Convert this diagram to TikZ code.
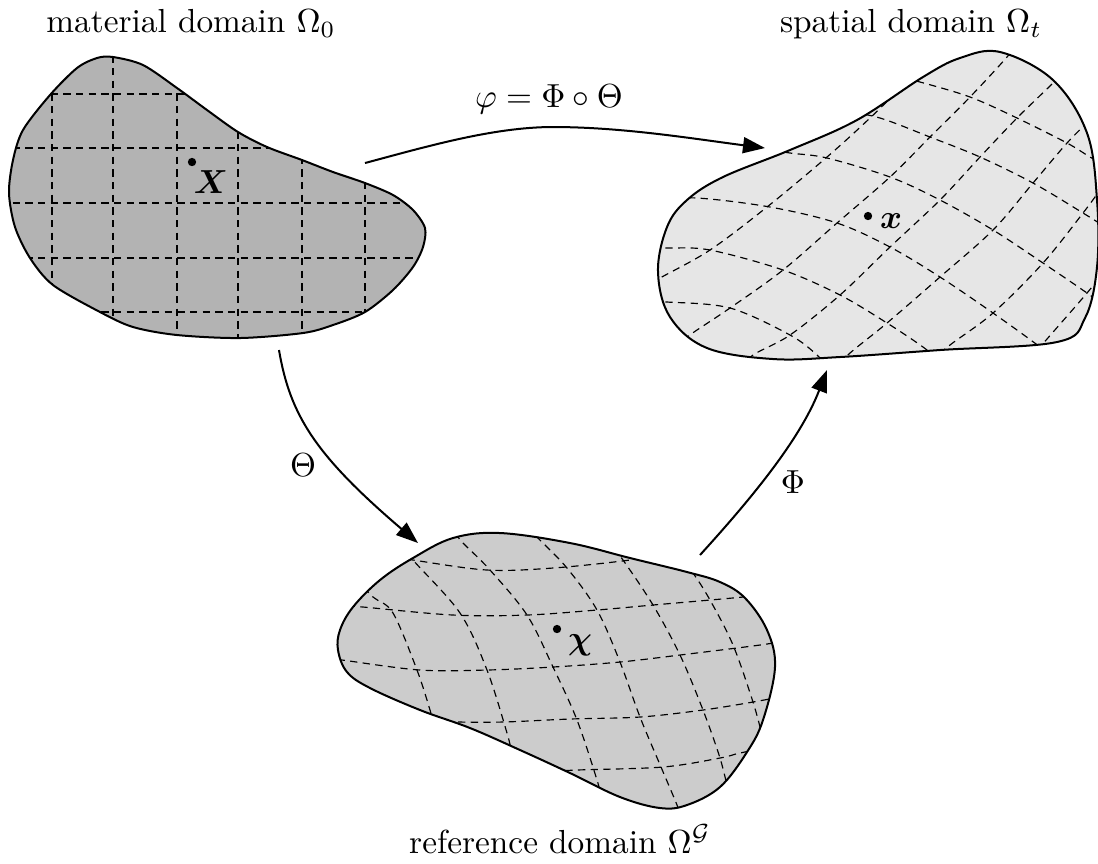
\documentclass[tikz,border=0pt]{standalone}
\usepackage{bm}
\usetikzlibrary{arrows.meta}
\definecolor{matgray}{HTML}{B3B3B3}
\definecolor{refgray}{HTML}{CCCCCC}
\definecolor{spagray}{HTML}{E6E6E6}
\begin{document}
\begin{tikzpicture}[x=0.3pt,y=-0.3pt,
  outline/.style={line width=0.6pt},
  gridline/.style={line width=0.35pt, dash pattern=on 2.2pt off 1.6pt},
  maparrow/.style={line width=0.6pt, -{Triangle[length=6.6pt,width=4.8pt]}},
  lbl/.style={inner sep=0pt},
  smoothline/.style={smooth, tension=0.55}]
\useasboundingbox (0,0) rectangle (1098,863);

\def\matshape{plot[smooth cycle, tension=0.5] coordinates {(113,57) (143,65) (177,88) (207,110) (238,132) (267,147) (302,160) (333,172) (365,183) (393,195) (413,210) (425,228) (423,247) (413,267) (393,290) (365,312) (333,325) (303,333) (240,338) (177,335) (133,327) (100,312) (53,285) (30,258) (15,227) (9,193) (13,160) (23,130) (50,95) (77,68) (97,58)}}
\def\spashape{plot[smooth cycle, tension=0.6] coordinates {(1000,52) (1053,80) (1087,133) (1097,200) (1097,267) (1085,318) (1057,342) (940,350) (840,357) (773,359) (707,348) (670,317) (658,272) (667,227) (687,200) (723,177) (790,150) (857,120) (923,77) (960,58)}}
\def\refshape{plot[smooth cycle, tension=0.6] coordinates {(500,533) (570,543) (630,558) (687,572) (720,582) (745,598) (767,630) (775,667) (763,720) (747,752) (720,787) (687,805) (660,808) (620,797) (570,773) (520,750) (470,728) (420,710) (370,688) (347,672) (338,650) (340,630) (353,607) (380,580) (413,558) (453,538)}}

% ---------- material domain ----------
\begin{scope}
  \clip \matshape;
  \fill[matgray] \matshape;
  \foreach \gx in {52,113,177,238,302,365}
    \draw[gridline] (\gx,30) -- (\gx,360);
  \foreach \gy in {94,148,203,258,312}
    \draw[gridline] (0,\gy) -- (440,\gy);
\end{scope}
\draw[outline] \matshape;

% ---------- spatial domain ----------
\begin{scope}
  \clip \spashape;
  \fill[spagray] \spashape;
  % first family
  \draw[gridline] plot[smoothline] coordinates {(880,72) (920,82) (970,97) (1017,118) (1067,143) (1090,157) (1110,168)};
  \draw[gridline] plot[smoothline] coordinates {(840,110) (880,118) (930,137) (980,157) (1033,183) (1083,213) (1110,230)};
  \draw[gridline] plot[smoothline] coordinates {(760,148) (790,153) (827,158) (890,177) (940,200) (993,230) (1043,263) (1087,293) (1110,310)};
  \draw[gridline] plot[smoothline] coordinates {(650,200) (697,198) (770,207) (837,223) (890,247) (940,277) (993,313) (1040,347) (1060,365)};
  \draw[gridline] plot[smoothline] coordinates {(640,248) (667,248) (710,250) (783,270) (840,295) (887,323) (923,347) (945,365)};
  \draw[gridline] plot[smoothline] coordinates {(640,302) (667,302) (730,308) (790,335) (817,355) (830,370)};
  % second family
  \draw[gridline] plot[smoothline] coordinates {(640,290) (660,278) (710,250) (767,207) (827,157) (870,118) (900,88) (915,70)};
  \draw[gridline] plot[smoothline] coordinates {(675,350) (687,337) (730,308) (783,270) (837,223) (890,177) (930,137) (970,97) (1007,57) (1015,45)};
  \draw[gridline] plot[smoothline] coordinates {(740,370) (753,355) (790,335) (840,295) (890,247) (940,200) (980,157) (1017,118) (1053,83) (1070,65)};
  \draw[gridline] plot[smoothline] coordinates {(840,365) (850,353) (887,323) (940,277) (993,230) (1033,183) (1067,143) (1090,120)};
  \draw[gridline] plot[smoothline] coordinates {(920,370) (950,345) (993,313) (1043,263) (1083,213) (1100,190)};
  \draw[gridline] plot[smoothline] coordinates {(1020,370) (1040,347) (1087,293) (1105,270)};
\end{scope}
\draw[outline] \spashape;

% ---------- reference domain ----------
\begin{scope}
  \clip \refshape;
  \fill[refgray] \refshape;
  % first family
  \draw[gridline] plot[smoothline] coordinates {(395,557) (413,560) (487,570) (553,568) (630,560) (690,550)};
  \draw[gridline] plot[smoothline] coordinates {(335,605) (363,607) (453,615) (527,615) (597,610) (653,605) (743,597) (785,592)};
  \draw[gridline] plot[smoothline] coordinates {(325,658) (342,660) (420,670) (487,670) (553,667) (620,662) (680,655) (760,645) (790,640)};
  \draw[gridline] plot[smoothline] coordinates {(420,722) (453,722) (503,722) (570,719) (640,717) (703,710) (753,702) (790,695)};
  \draw[gridline] plot[smoothline] coordinates {(540,772) (577,770) (663,767) (720,758) (740,753) (780,745)};
  % second family
  \draw[gridline] plot[smoothline] coordinates {(355,578) (373,597) (393,613) (417,670) (430,710) (435,728)};
  \draw[gridline] plot[smoothline] coordinates {(400,542) (413,560) (460,613) (487,670) (507,733) (511,750)};
  \draw[gridline] plot[smoothline] coordinates {(455,533) (463,543) (490,570) (527,615) (553,667) (577,720) (597,780) (601,797)};
  \draw[gridline] plot[smoothline] coordinates {(528,526) (537,537) (567,568) (597,610) (620,662) (640,717) (661,767) (677,805) (681,818)};
  \draw[gridline] plot[smoothline] coordinates {(613,548) (623,560) (653,605) (680,655) (703,710) (720,758) (728,790)};
  \draw[gridline] plot[smoothline] coordinates {(683,562) (693,573) (710,600) (733,645) (753,702) (762,735)};
\end{scope}
\draw[outline] \refshape;

% ---------- points ----------
\fill (192,162) circle[radius=1.25pt];
\node[lbl] (Xlab) at (211,182) {$\bm{X}$};
\fill (868,216) circle[radius=1.25pt];
\node[lbl] (xlab) at (891,221) {$\bm{x}$};
\fill (557,629) circle[radius=1.25pt];
\node[lbl] (chilab) at (580,645) {$\bm{\chi}$};

% ---------- domain labels ----------
\node[lbl, anchor=base] (matlab) at (191,32) {material domain $\Omega_0$};
\node[lbl, anchor=base] (spalab) at (911,32) {spatial domain $\Omega_t$};
\node[lbl, anchor=base] (reflab) at (560,853) {reference domain $\Omega^{\mathcal{G}}$};

% ---------- maps ----------
\coordinate (phiS) at (365,163);
\coordinate (phiM) at (553,127);
\coordinate (phiE) at (765,148);
\coordinate (thS) at (279,350);
\coordinate (thE) at (418,543);
\coordinate (PhS) at (700,555);
\coordinate (PhE) at (827,370);

\draw[maparrow] (phiS) .. controls (425,147) and (493,127) .. (phiM)
                       .. controls (623,127) and (695,139) .. (phiE);
\draw[maparrow] (thS) .. controls (290,415) and (315,455) .. (thE);
\draw[maparrow] (PhS) .. controls (750,500) and (800,440) .. (PhE);

\node[lbl, anchor=base] (philab) at (549,107) {$\varphi = \Phi \circ \Theta$};
\node[lbl] (thlab) at (303,465) {$\Theta$};
\node[lbl] (Phlab) at (793,482) {$\Phi$};
\end{tikzpicture}
\end{document}
